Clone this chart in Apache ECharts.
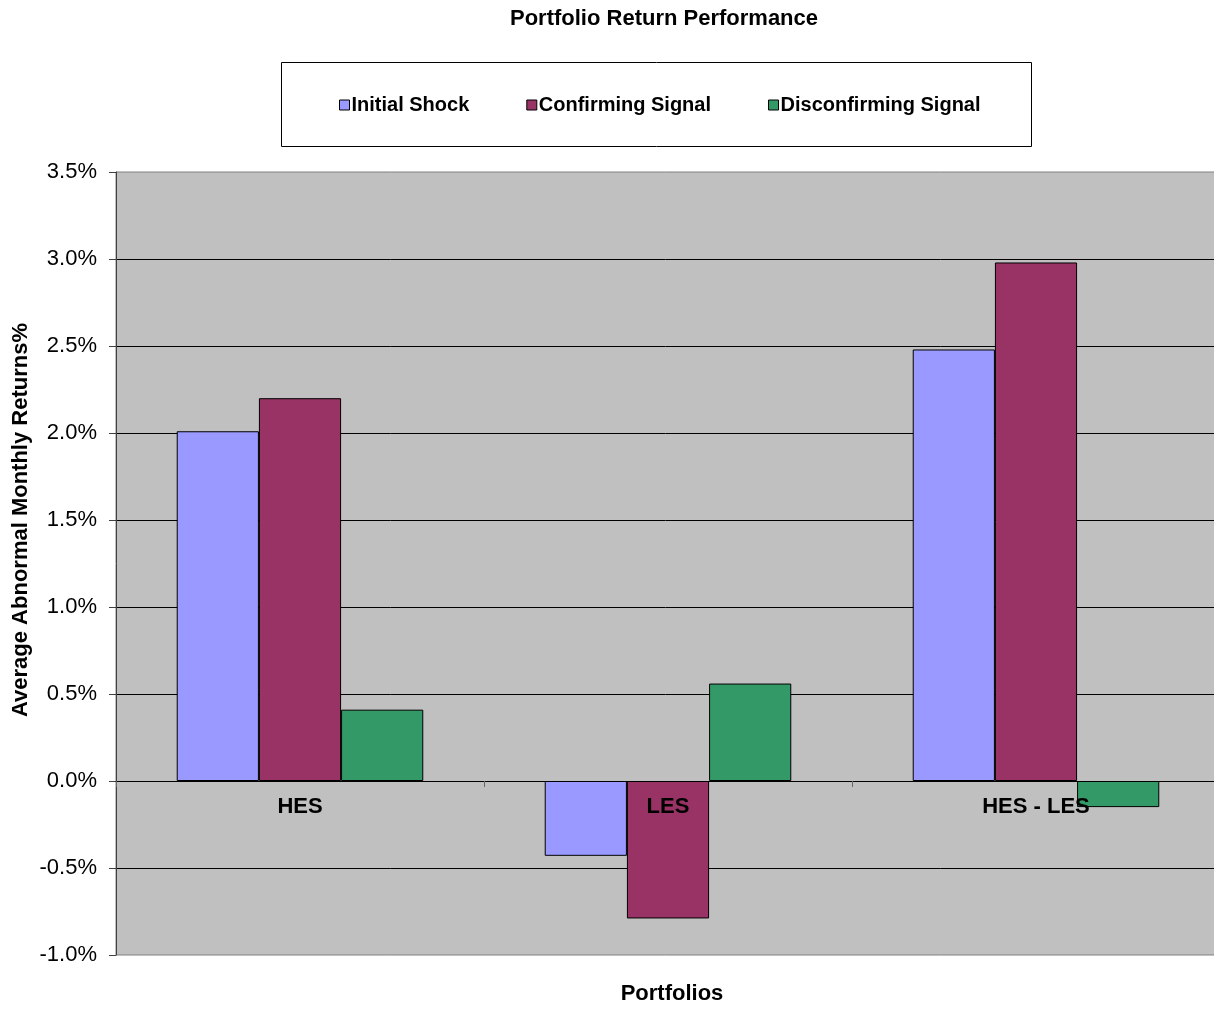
<!DOCTYPE html>
<html>
<head>
<meta charset="utf-8">
<script src="https://cdn.jsdelivr.net/npm/echarts@6/dist/echarts.min.js"></script>
<style>
  html, body { margin: 0; padding: 0; background: #fff; }
  #chart { width: 1214px; height: 1009px; }
</style>
</head>
<body>
<div id="chart"></div>
<script>
// Portfolio groups and average abnormal monthly returns (in percent)
const categories = ['HES', 'LES', 'HES - LES'];
const initialShock = [2.01, -0.43, 2.48];
const confirmingSignal = [2.20, -0.79, 2.98];
const disconfirmingSignal = [0.41, 0.56, -0.15];
const seriesNames = ['Initial Shock', 'Confirming Signal', 'Disconfirming Signal'];

const FONT = '"Liberation Sans", Arial, sans-serif';
const chart = echarts.init(document.getElementById('chart'));

function barSeries(name, data, color) {
  return {
    name: name,
    type: 'bar',
    data: data,
    barGap: '0%',
    barCategoryGap: '33%',
    itemStyle: { color: color, borderColor: '#000', borderWidth: 1 }
  };
}

chart.setOption({
  animation: false,
  textStyle: { fontFamily: FONT },
  graphic: [
    {
      type: 'rect',
      shape: { x: 281.5, y: 62.5, width: 750, height: 84 },
      style: { fill: '#fff', stroke: '#000', lineWidth: 1 },
      z: -1
    },
    {
      type: 'text',
      x: 664, y: 19,
      style: {
        text: 'Portfolio Return Performance', font: 'bold 22px ' + FONT, fill: '#000',
        align: 'center', verticalAlign: 'middle'
      }
    },
    {
      type: 'text',
      x: 672, y: 994,
      style: {
        text: 'Portfolios', font: 'bold 22px ' + FONT, fill: '#000',
        align: 'center', verticalAlign: 'middle'
      }
    },
    {
      type: 'text',
      x: 21, y: 520,
      rotation: Math.PI / 2,
      style: {
        text: 'Average Abnormal Monthly Returns%',
        font: 'bold 22px ' + FONT, fill: '#000',
        align: 'center', verticalAlign: 'middle'
      }
    }
  ],
  legend: {
    data: seriesNames,
    left: 334, top: 90,
    itemWidth: 10, itemHeight: 10,
    itemGap: 57,
    icon: 'rect',
    itemStyle: { borderColor: '#000', borderWidth: 1 },
    textStyle: { fontFamily: FONT, fontWeight: 'bold', fontSize: 20, color: '#000', padding: [0, 0, 0, -3] }
  },
  grid: {
    left: 116, top: 172, right: -6, bottom: 54,
    outerBoundsMode: 'none',
    show: true, backgroundColor: '#c0c0c0', borderColor: '#808080', borderWidth: 1,
    containLabel: false
  },
  xAxis: {
    type: 'category',
    data: categories,
    z: 5,
    axisLine: { onZero: true, lineStyle: { color: '#000', width: 1 } },
    axisTick: { show: true, length: 6, lineStyle: { color: '#666' } },
    axisLabel: { margin: -159, fontFamily: FONT, fontWeight: 'bold', fontSize: 22, color: '#000' },
    splitLine: { show: false }
  },
  yAxis: {
    type: 'value',
    min: -1, max: 3.5, interval: 0.5,
    axisLine: { show: true, lineStyle: { color: '#404040', width: 1 } },
    axisTick: { show: true, length: 7, lineStyle: { color: '#404040' } },
    axisLabel: {
      margin: 19, fontFamily: FONT, fontSize: 22, color: '#000',
      formatter: v => v.toFixed(1) + '%'
    },
    splitLine: { show: true, showMinLine: false, showMaxLine: false, lineStyle: { color: '#000', width: 1 } }
  },
  series: [
    barSeries(seriesNames[0], initialShock, '#9999ff'),
    barSeries(seriesNames[1], confirmingSignal, '#993366'),
    barSeries(seriesNames[2], disconfirmingSignal, '#339966')
  ]
});
</script>
</body>
</html>
